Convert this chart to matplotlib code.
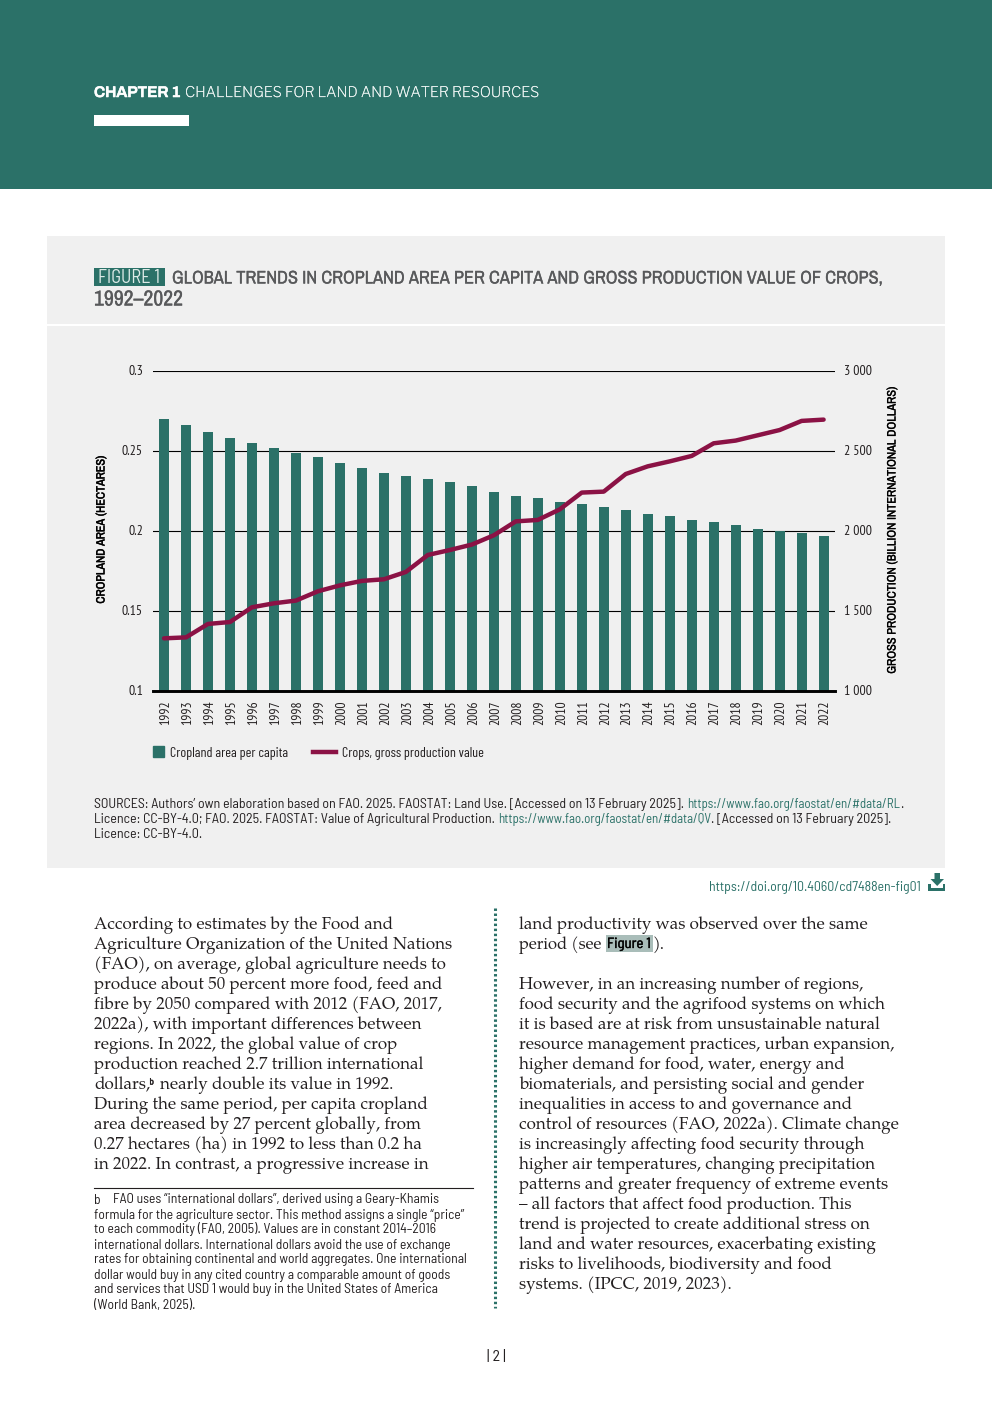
import matplotlib
matplotlib.use('Agg')
import matplotlib.pyplot as plt
from matplotlib.patches import Rectangle, Polygon, Patch
from matplotlib.lines import Line2D
from matplotlib.transforms import ScaledTranslation
import matplotlib.patheffects as pe
import logging
logging.getLogger('matplotlib.font_manager').setLevel(logging.ERROR)

# ---------- data ----------
years = list(range(1992, 2023))
cropland = [0.2702, 0.2665, 0.2621, 0.2583, 0.2552, 0.2521, 0.2490, 0.2465, 0.2427, 0.2396,
            0.2365, 0.2346, 0.2327, 0.2308, 0.2283, 0.2246, 0.2221, 0.2208, 0.2183, 0.2171,
            0.2152, 0.2133, 0.2108, 0.2096, 0.2071, 0.2058, 0.2040, 0.2015, 0.2002, 0.1990, 0.1971]
crops_value = [1331, 1337, 1421, 1433, 1525, 1550, 1567, 1625, 1662, 1690,
               1700, 1746, 1852, 1883, 1917, 1975, 2062, 2071, 2137, 2242,
               2248, 2358, 2406, 2437, 2471, 2550, 2567, 2600, 2633, 2690, 2698]
left_ticks = [0.1, 0.15, 0.2, 0.25, 0.3]
left_labels = ['0.1', '0.15', '0.2', '0.25', '0.3']
right_ticks = [1000, 1500, 2000, 2500, 3000]
right_labels = ['1 000', '1 500', '2 000', '2 500', '3 000']

col1 = ["According to estimates by the Food and",
        "Agriculture Organization of the United Nations",
        "(FAO), on average, global agriculture needs to",
        "produce about 50 percent more food, feed and",
        "fibre by 2050 compared with 2012 (FAO, 2017,",
        "2022a), with important differences between",
        "regions. In 2022, the global value of crop",
        "production reached 2.7 trillion international",
        None,
        "During the same period, per capita cropland",
        "area decreased by 27 percent globally, from",
        "0.27 hectares (ha) in 1992 to less than 0.2 ha",
        "in 2022. In contrast, a progressive increase in"]
col2 = ["land productivity was observed over the same",
        None,
        "",
        "However, in an increasing number of regions,",
        "food security and the agrifood systems on which",
        "it is based are at risk from unsustainable natural",
        "resource management practices, urban expansion,",
        "higher demand for food, water, energy and",
        "biomaterials, and persisting social and gender",
        "inequalities in access to and governance and",
        "control of resources (FAO, 2022a). Climate change",
        "is increasingly affecting food security through",
        "higher air temperatures, changing precipitation",
        "patterns and greater frequency of extreme events",
        "– all factors that affect food production. This",
        "trend is projected to create additional stress on",
        "land and water resources, exacerbating existing",
        "risks to livelihoods, biodiversity and food",
        "systems. (IPCC, 2019, 2023)."]
footnote = ["FAO uses “international dollars”, derived using a Geary-Khamis",
            "formula for the agriculture sector. This method assigns a single “price”",
            "to each commodity (FAO, 2005). Values are in constant 2014–2016",
            "international dollars. International dollars avoid the use of exchange",
            "rates for obtaining continental and world aggregates. One international",
            "dollar would buy in any cited country a comparable amount of goods",
            "and services that USD 1 would buy in the United States of America",
            "(World Bank, 2025)."]

# ---------- style ----------
GREEN = '#2B7168'
WINE = '#8B1245'
PANEL = '#F0F0F0'
GREY = '#58595B'
INK = '#231F20'
NARROW = ['Barlow Condensed', 'Roboto Condensed', 'DejaVu Sans']
TICK = ['PT Sans Narrow', 'Roboto Condensed', 'DejaVu Sans']
SEMI = ['Barlow Semi Condensed', 'Roboto', 'DejaVu Sans']
TITLE = ['Pragati Narrow', 'Roboto Condensed', 'DejaVu Sans']
SERIF = ['TeX Gyre Pagella', 'Liberation Serif', 'DejaVu Serif']
HEAD = ['Libre Franklin', 'Roboto', 'DejaVu Sans']
HEADB = ['Archivo', 'Roboto', 'DejaVu Sans']

W, H = 992, 1403
fig = plt.figure(figsize=(W / 100, H / 100), dpi=100, facecolor='white')
rend = fig.canvas.get_renderer()

bg = fig.add_axes([0, 0, 1, 1], zorder=0)
bg.set_xlim(0, W)
bg.set_ylim(H, 0)
bg.axis('off')


def width_of(t):
    return t.get_window_extent(rend).width


def fit_size(s, target, **kw):
    t = bg.text(0, 0, s, fontsize=10, **kw)
    w = width_of(t)
    t.remove()
    return 10 * target / w


def txt(x, y, s, size, family=SEMI, color=INK, heavy=0, **kw):
    kw.setdefault('va', 'baseline')
    t = bg.text(x, y, s, fontsize=size, family=family, color=color, **kw)
    if heavy:
        t.set_path_effects([pe.withStroke(linewidth=heavy, foreground=color)])
    return t


# ---------- page furniture ----------
bg.add_patch(Rectangle((0, 0), W, 189, fc=GREEN, ec='none'))
bg.add_patch(Rectangle((94, 115), 95, 11, fc='white', ec='none'))
txt(94, 97, 'CHAPTER 1', fit_size('CHAPTER 1', 86, family=HEADB), family=HEADB, color='white', heavy=0.4)
s = 'CHALLENGES FOR LAND AND WATER RESOURCES'
txt(185, 97, s, fit_size(s, 355, family=HEAD), family=HEAD, color='#F2F7F6', heavy=0.15)

bg.add_patch(Rectangle((47, 236), 898, 632, fc=PANEL, ec='none'))
bg.add_patch(Rectangle((47, 324), 898, 2.2, fc='white', ec='none'))
bg.add_patch(Rectangle((94, 268), 71, 18, fc=GREEN, ec='none'))
txt(98, 283, 'FIGURE 1', fit_size('FIGURE 1', 62, family=SEMI), family=SEMI, color='#DDEAE7')
s = 'GLOBAL TRENDS IN CROPLAND AREA PER CAPITA AND GROSS PRODUCTION VALUE OF CROPS,'
txt(172, 283.5, s, fit_size(s, 706, family=TITLE), family=TITLE, color=GREY, heavy=0.18)
txt(94, 305.5, '1992–2022', fit_size('1992–2022', 89, family=TITLE), family=TITLE, color=GREY, heavy=0.18)

# sources with coloured links
s1 = 'SOURCES: Authors’ own elaboration based on FAO. 2025. FAOSTAT: Land Use. [Accessed on 13 February 2025].'
link1 = 'https://www.fao.org/faostat/en/#data/RL'
link2 = 'https://www.fao.org/faostat/en/#data/QV'
srcsize = fit_size(s1, 591, family=SEMI)
lnksize = fit_size(link1, 214, family=SEMI)


def chain(x, y, parts, family=SEMI, gap=3.0):
    for s, c, g, size in parts:
        t = txt(x, y, s, size, family=family, color=c)
        x += width_of(t) + (gap if g else 0)
    return x


chain(94, 808, [(s1, INK, 1, srcsize), (link1, GREEN, 0, lnksize), ('.', INK, 0, srcsize)])
chain(94, 823, [('Licence: CC-BY-4.0; FAO. 2025. FAOSTAT: Value of Agricultural Production.', INK, 1, srcsize),
                (link2, GREEN, 0, lnksize),
                ('. [Accessed on 13 February 2025].', INK, 0, srcsize)])
txt(94, 838, 'Licence: CC-BY-4.0.', srcsize)

doi = 'https://doi.org/10.4060/cd7488en-fig01'
txt(921, 891, doi, fit_size(doi, 212, family=SEMI), color=GREEN, ha='right')
bg.add_patch(Polygon([(934.5, 873), (940, 873), (940, 879), (944, 879), (937.2, 886), (930.5, 879), (934.5, 879)],
                     closed=True, fc=GREEN, ec='none'))
bg.add_patch(Polygon([(928, 884), (930.5, 884), (930.5, 887.5), (942.5, 887.5), (942.5, 884), (945, 884),
                      (945, 890.5), (928, 890.5)], closed=True, fc=GREEN, ec='none'))

# ---------- body text ----------
bsize = fit_size(col1[1], 359, family=SERIF)
B0, STEP = 929.0, 20.0
for i, line in enumerate(col1):
    if line:
        txt(94, B0 + i * STEP, line, bsize, family=SERIF)
yb = B0 + 8 * STEP
txt(94, yb, 'dollars,', bsize, family=SERIF)
txt(149.5, yb - 4.5, 'b', 6.5, family=SEMI, heavy=0.3)
txt(160, yb, 'nearly double its value in 1992.', bsize, family=SERIF)

for i, line in enumerate(col2):
    if line:
        txt(519, B0 + i * STEP, line, bsize, family=SERIF)
yb = B0 + STEP
txt(519, yb, 'period (see', fit_size('period (see', 83, family=SERIF), family=SERIF)
bg.add_patch(Rectangle((605.5, 935), 47.5, 16.5, fc='#A9BDB9', ec='none'))
txt(607, yb - 1, 'Figure 1', fit_size('Figure 1', 44, family=SEMI), family=SEMI, color='black', heavy=0.25)
txt(653, yb, ').', bsize, family=SERIF)

bg.add_line(Line2D([495, 495], [908, 1308], color=GREEN, lw=2.2, linestyle=(0, (0.8, 0.85))))

bg.add_line(Line2D([94, 473], [1187.5, 1187.5], color=INK, lw=0.8))
fsize = fit_size(footnote[5], 356, family=SEMI)
F0 = 1203.5
txt(94, F0, 'b', fsize)
txt(113, F0, footnote[0], fsize)
for i, line in enumerate(footnote[1:], start=1):
    txt(94, F0 + i * 15, line, fsize)
txt(496.5, 1361, '| 2 |', fit_size('| 2 |', 19, family=SEMI), ha='center')

# ---------- chart ----------
L, R, T, B = 153.0, 834.6, 371.3, 691.3
ax = fig.add_axes([L / W, 1 - B / H, (R - L) / W, (B - T) / H], zorder=2)
ax.patch.set_alpha(0)
ax.bar(range(len(years)), cropland, width=0.45, color=GREEN, zorder=2,
       label='Cropland area per capita')
ax.set_xlim(-0.5, len(years) - 0.5)
ax.set_ylim(0.1, 0.3)
ax.set_yticks(left_ticks, left_labels, family=TICK, fontsize=10, color=INK)
ax.set_xticks(range(len(years)), [str(y) for y in years], rotation=90, family=TICK, fontsize=9.8, color=INK)
ax.yaxis.grid(True, color='black', lw=0.8, zorder=0)
ax.set_axisbelow(True)
ax.tick_params(axis='both', length=0)
ax.tick_params(axis='x', pad=6.5)
ax.tick_params(axis='y', pad=7.2)
for sp in ('top', 'left', 'right'):
    ax.spines[sp].set_visible(False)
ax.spines['bottom'].set_linewidth(2.1)
ax.spines['bottom'].set_color('black')
ax.spines['bottom'].set_zorder(5)

ax2 = ax.twinx()
ax2.patch.set_alpha(0)
ax2.set_zorder(3)
ax2.plot(range(len(years)), crops_value, color=WINE, lw=3.2, solid_joinstyle='round',
         solid_capstyle='round', label='Crops, gross production value')
ax2.set_ylim(1000, 3000)
ax2.set_yticks(right_ticks, right_labels, family=TICK, fontsize=10, color=INK)
ax2.tick_params(axis='y', length=0, pad=6.6)
for sp in ax2.spines.values():
    sp.set_visible(False)

# nudge tick labels by a pixel or so, as in the original layout
up = ScaledTranslation(0, 1 / 100, fig.dpi_scale_trans)
right = ScaledTranslation(1.5 / 100, 0, fig.dpi_scale_trans)
for lab in ax.get_yticklabels() + ax2.get_yticklabels():
    lab.set_transform(lab.get_transform() + up)
for lab in ax.get_xticklabels():
    lab.set_transform(lab.get_transform() + right)

# titles of the two axes
yl = 'CROPLAND AREA (HECTARES)'
yr = 'GROSS PRODUCTION (BILLION INTERNATIONAL DOLLARS)'
txt(101, 529.5, yl, fit_size(yl, 147, family=TITLE), family=TITLE, color='black', heavy=0.3,
    rotation=90, ha='center', va='center')
txt(892, 530.5, yr, fit_size(yr, 285, family=TITLE), family=TITLE, color='black', heavy=0.2,
    rotation=90, ha='center', va='center')

# legends (one per series, handles differ in length)
lsize = fit_size('Cropland area per capita', 118, family=NARROW)


def fig_anchor(x, y):
    return (x / W, 1 - y / H)


leg1 = ax.legend(handles=[Patch(color=GREEN, label='Cropland area per capita')],
                 loc='center left', bbox_to_anchor=fig_anchor(153, 753), bbox_transform=fig.transFigure,
                 frameon=False, borderpad=0, borderaxespad=0,
                 handlelength=11 * 0.72 / lsize, handleheight=11 * 0.72 / lsize, handletextpad=0.42,
                 prop={'family': NARROW, 'size': lsize})
for t in leg1.get_texts():
    t.set_color(INK)
leg2 = ax2.legend(handles=[Line2D([0], [0], color=WINE, lw=3.2, label='Crops, gross production value')],
                  loc='center left', bbox_to_anchor=fig_anchor(313, 753.5), bbox_transform=fig.transFigure,
                  frameon=False, borderpad=0, borderaxespad=0,
                  handlelength=23 * 0.72 / lsize, handletextpad=0.42,
                  prop={'family': NARROW, 'size': fit_size('Crops, gross production value', 142, family=NARROW)})
for t in leg2.get_texts():
    t.set_color(INK)

fig.savefig('out.png', dpi=100, facecolor='white')
